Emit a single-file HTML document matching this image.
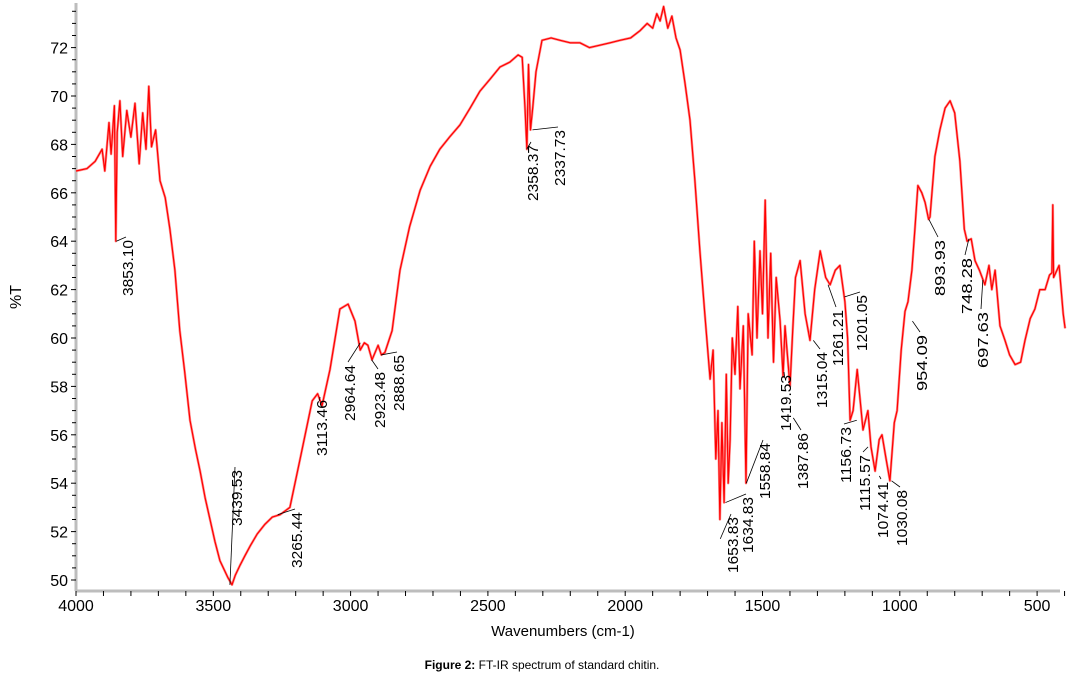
<!DOCTYPE html>
<html><head><meta charset="utf-8"><style>
body{margin:0;background:#fff;width:1084px;height:680px;overflow:hidden}
svg{font-family:"Liberation Sans",Arial,sans-serif}
</style></head><body>
<svg id="chart" width="1084" height="680" viewBox="0 0 1084 680" xmlns="http://www.w3.org/2000/svg">
<g id="axes"></g>
<g id="series"></g>
<g id="annots"></g>
<text transform="translate(21,297) rotate(-90)" text-anchor="middle" font-size="16">%T</text>
<text x="563" y="636" text-anchor="middle" font-size="15">Wavenumbers (cm-1)</text>
<text x="542" y="669" text-anchor="middle" font-size="12"><tspan font-weight="bold">Figure 2:</tspan> FT-IR spectrum of standard chitin.</text>
</svg>
<script>
const wavenumbers=[4000,3960,3930,3905,3895,3880,3872,3860,3855,3850,3840,3830,3815,3800,3785,3770,3757,3745,3735,3725,3710,3694,3675,3658,3640,3622,3604,3585,3565,3548,3530,3512,3494,3476,3447,3432,3420,3403,3385,3366,3340,3312,3285,3257,3221,3184,3140,3120,3104,3075,3039,3009,2984,2965,2950,2937,2922,2900,2888,2875,2849,2820,2785,2747,2710,2675,2640,2602,2565,2529,2492,2456,2420,2390,2375,2365,2358,2352,2345,2337,2325,2303,2270,2237,2200,2165,2130,2092,2055,2019,1980,1946,1920,1900,1885,1873,1860,1845,1830,1815,1800,1782,1764,1746,1728,1710,1691,1680,1670,1662,1655,1648,1640,1632,1625,1618,1610,1600,1590,1582,1570,1560,1552,1538,1530,1520,1509,1500,1490,1480,1470,1460,1450,1436,1425,1418,1400,1390,1380,1363,1345,1327,1310,1290,1270,1254,1235,1218,1200,1190,1181,1170,1155,1145,1134,1116,1105,1090,1075,1065,1050,1036,1020,1010,995,981,970,956,945,934,920,908,895,890,872,854,835,817,800,781,765,755,740,726,710,690,675,665,653,635,617,600,580,560,544,525,508,490,471,455,446,443,440,420,405,398];
const transmittance=[66.9,67.0,67.3,67.8,66.9,68.9,67.6,69.6,64.0,68.5,69.8,67.5,69.4,68.3,69.7,67.2,69.3,67.8,70.4,67.9,68.6,66.5,65.8,64.5,62.8,60.3,58.6,56.6,55.4,54.5,53.4,52.5,51.6,50.8,50.1,49.8,50.2,50.6,51.0,51.4,51.9,52.3,52.6,52.7,53.0,55.0,57.4,57.7,57.2,58.7,61.2,61.4,60.7,59.5,59.8,59.7,59.1,59.7,59.3,59.4,60.3,62.8,64.6,66.1,67.1,67.8,68.3,68.8,69.5,70.2,70.7,71.2,71.4,71.7,71.6,69.5,67.8,71.3,68.6,69.5,71.0,72.3,72.4,72.3,72.2,72.2,72.0,72.1,72.2,72.3,72.4,72.7,73.0,72.8,73.4,73.1,73.7,72.8,73.3,72.4,71.9,70.5,69.0,66.5,63.6,61.0,58.3,59.5,55.0,57.0,52.5,56.5,53.2,58.5,54.0,55.8,60.0,58.5,61.3,57.9,60.5,54.0,61.0,59.3,64.0,60.0,63.6,61.0,65.7,60.0,63.5,59.0,62.5,60.7,58.4,60.5,58.0,60.3,62.5,63.2,61.0,59.9,62.0,63.6,62.5,62.2,62.8,63.0,61.5,60.0,56.6,57.0,58.7,57.5,56.2,57.0,55.5,54.5,55.8,56.0,55.0,54.1,56.5,57.0,59.5,61.1,61.5,62.8,64.5,66.3,66.0,65.6,64.9,65.0,67.5,68.6,69.5,69.8,69.3,67.3,64.5,64.0,64.1,63.2,62.8,62.2,63.0,62.0,62.8,60.5,59.9,59.3,58.9,59.0,59.9,60.8,61.2,62.0,62.0,62.6,62.7,65.5,62.5,63.0,61.0,60.4];
const xTicks=[4000,3500,3000,2500,2000,1500,1000,500];
const yTicks=[50,52,54,56,58,60,62,64,66,68,70,72];
const peakLabels=["3853.10","3439.53","3265.44","3113.46","2964.64","2923.48","2888.65","2358.37","2337.73","1653.83","1634.83","1558.84","1419.53","1387.86","1315.04","1261.21","1201.05","1156.73","1115.57","1074.41","1030.08","954.09","893.93","748.28","697.63"];
const peakValues=[64.0,49.8,52.7,57.4,59.8,59.1,59.3,67.8,68.6,51.7,53.2,54.0,58.4,56.7,59.9,62.2,61.7,56.6,55.5,54.3,54.1,60.7,64.9,64.1,62.4];
const labelPos=[[128,240],[237,470],[297,512],[322,400],[350,365],[380,372],[399,355],[533,145],[560,130],[733,517],[748,497],[765,443],[786,375],[803,433],[822,352],[838,310],[862,295],[846,427],[865,455],[883,482],[902,490],[922,335],[940,240],[967,258],[983,312]];

const X0=76,SX=0.2746,Y50=580,SY=24.2;
const xs=w=>X0+(4000-w)*SX;
const ys=v=>Y50-(v-50)*SY;
const NS="http://www.w3.org/2000/svg";
function mk(tag,attrs,parent){const e=document.createElementNS(NS,tag);for(const k in attrs)e.setAttribute(k,attrs[k]);parent.appendChild(e);return e;}
const axes=document.getElementById('axes');
const bottomY=591,topY=3,rightX=1060;
let a=mk('line',{x1:X0,y1:topY,x2:X0,y2:bottomY,stroke:'#bdbdbd','stroke-width':3},axes);

a=mk('line',{x1:X0,y1:bottomY,x2:rightX,y2:bottomY,stroke:'#bdbdbd','stroke-width':3},axes);

for(let v=49.5;v<=73.5;v+=0.5){const y=ys(v);if(y<topY||y>bottomY)continue;const major=Math.abs(v-Math.round(v/2)*2)<1e-6;
 const t=mk('line',{x1:X0-(major?5:4),y1:y,x2:X0,y2:y,stroke:'#000','stroke-width':1},axes);
 }
yTicks.forEach(v=>{const t=mk('text',{x:X0-8,y:ys(v)+6,'text-anchor':'end','font-size':16},axes);t.textContent=v;
 });
for(let w=4000;w>=400;w-=100){const x=xs(w);const t=mk('line',{x1:x,y1:bottomY,x2:x,y2:bottomY+5,stroke:'#000','stroke-width':1},axes);
 }
xTicks.forEach(w=>{const t=mk('text',{x:xs(w),y:bottomY+20,'text-anchor':'middle','font-size':16},axes);t.textContent=w;
 });
const ser=document.getElementById('series');
const n=Math.min(wavenumbers.length,transmittance.length);
const ptsArr=[];
for(let i=0;i<n;i++){ptsArr.push(xs(wavenumbers[i]).toFixed(1)+','+ys(transmittance[i]).toFixed(1));}
const pts=ptsArr.join(' ');
const glow=mk('polyline',{points:pts,fill:'none',stroke:'#ff9090','stroke-width':2.5,'stroke-linejoin':'round'},ser);

const line=mk('polyline',{points:pts,fill:'none',stroke:'#ff0000','stroke-width':1.2,'stroke-linejoin':'round'},ser);

const an=document.getElementById('annots');
peakLabels.forEach((lab,i)=>{const w=parseFloat(lab);const px=xs(w),py=ys(peakValues[i]);const lx=labelPos[i][0],ly=labelPos[i][1];
 const l=mk('line',{x1:px,y1:py,x2:lx-2,y2:ly-3,stroke:'#000','stroke-width':0.8},an);
 
 const t=mk('text',{transform:'translate('+(lx+5)+','+ly+') rotate(-90)','text-anchor':'end','font-size':15,textLength:56,lengthAdjust:'spacingAndGlyphs'},an);
 t.textContent=lab;
 });
</script>
</body></html>
